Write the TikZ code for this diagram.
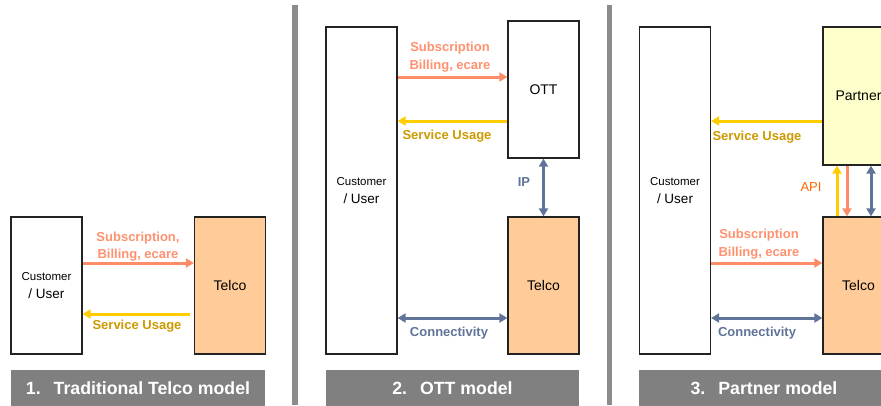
\documentclass[tikz,border=0pt]{standalone}
\usepackage{fontspec}
\setmainfont{Liberation Sans}
\usetikzlibrary{arrows.meta,calc}

\definecolor{salmon}{RGB}{255,140,105}
\definecolor{salmontext}{RGB}{255,145,112}
\definecolor{usage}{RGB}{255,204,0}
\definecolor{usagetext}{RGB}{204,153,0}
\definecolor{slate}{RGB}{96,115,153}
\definecolor{telcofill}{RGB}{255,204,153}
\definecolor{partnerfill}{RGB}{255,255,204}
\definecolor{apiorange}{RGB}{255,102,0}
\definecolor{bargray}{RGB}{128,128,128}
\definecolor{divgray}{RGB}{140,140,140}
\definecolor{edge}{RGB}{35,35,35}

\tikzset{
  box/.style={draw=edge, line width=1.2pt, inner sep=0pt, align=center,
    font=\fontsize{14}{16}\selectfont},
  cust/.style={box, fill=white, minimum width=71pt},
  telco/.style={box, fill=telcofill, minimum width=71pt, minimum height=137pt},
  flow/.style={line width=3pt, -{Triangle[length=8pt,width=9pt]}},
  flowboth/.style={line width=3pt, {Triangle[length=8pt,width=9pt]}-{Triangle[length=8pt,width=9pt]}},
  lbl/.style={font=\bfseries\fontsize{13}{15}\selectfont, inner sep=0pt, align=center},
  subl/.style={lbl, text=salmontext},
  usel/.style={lbl, text=usagetext},
  conl/.style={lbl, text=slate},
  bar/.style={fill=bargray, text=white, inner sep=0pt, minimum height=36pt,
    font=\bfseries\fontsize{17.7}{20}\selectfont},
  divider/.style={draw=divgray, line width=5.5pt}
}

\newcommand{\custtext}{{\fontsize{11.5}{14}\selectfont Customer}\\[1.5pt]{\fontsize{13.5}{15}\selectfont / User}}

\begin{document}
\begin{tikzpicture}[x=1pt,y=-1pt]
\useasboundingbox (0,0) rectangle (881,405);
\clip (0,0) rectangle (881,405);

% panel dividers
\draw[divider] (295,5) -- (295,405);
\draw[divider] (609.5,5) -- (609.5,405);

% ---------- 1. Traditional Telco model ----------
\node[cust, minimum height=137pt] (c1) at (46.5,285.5) {\custtext};
\node[telco] (t1) at (230,285.5) {Telco};
\draw[flow, salmon] ([yshift=22.5pt]c1.east) -- ([yshift=22.5pt]t1.west);
\draw[flow, usage] ([yshift=-28.5pt,xshift=-4pt]t1.west) -- ([yshift=-28.5pt]c1.east);
\node[subl] (s1a) at (138,238) {Subscription,};
\node[subl] (s1b) at (138,255) {Billing, ecare};
\node[usel] (u1) at (137,326) {Service Usage};
\node[bar, minimum width=254pt] (b1) at (138,388) {1.\hspace{13pt}Traditional Telco model};

% ---------- 2. OTT model ----------
\node[cust, minimum height=327pt] (c2) at (361.5,190.5) {\custtext};
\node[box, fill=white, minimum width=71pt, minimum height=137pt] (o2) at (543.5,89.5) {OTT};
\node[telco] (t2) at (543.5,285.5) {Telco};
\draw[flow, salmon] ([yshift=113.5pt]c2.east) -- ([yshift=12.5pt]o2.west);
\draw[flow, usage] ([yshift=-31.5pt]o2.west) -- ([yshift=69.5pt]c2.east);
\draw[flowboth, slate] (o2.south) -- (t2.north);
\draw[flowboth, slate] ([yshift=-127.5pt]c2.east) -- ([yshift=-32.5pt]t2.west);
\node[subl] (s2a) at (450,48) {Subscription};
\node[subl] (s2b) at (450,66) {Billing, ecare};
\node[usel] (u2) at (447,136) {Service Usage};
\node[conl] (ip2) at (524,182) {IP};
\node[conl] (k2) at (449,333) {Connectivity};
\node[bar, minimum width=253pt] (b2) at (452.5,388) {2.\hspace{13pt}OTT model};

% ---------- 3. Partner model ----------
\node[cust, minimum height=327pt] (c3) at (675,190.5) {\custtext};
\node[box, fill=partnerfill, minimum width=71pt, minimum height=138pt] (p3) at (858.5,96) {Partner};
\node[telco] (t3) at (858.5,285.5) {Telco};
\draw[flow, usage] ([yshift=-25pt]p3.west) -- ([yshift=69.5pt]c3.east);
\draw[flow, salmon] ([yshift=-72.5pt]c3.east) -- ([yshift=22.5pt]t3.west);
\draw[flowboth, slate] ([yshift=-127.5pt]c3.east) -- ([yshift=-32.5pt]t3.west);
\draw[flow, usage] ([xshift=-21.5pt]t3.north) -- ([xshift=-21.5pt]p3.south);
\draw[flow, salmon] ([xshift=-11.5pt]p3.south) -- ([xshift=-11.5pt]t3.north);
\draw[flowboth, slate] ([xshift=12.5pt]p3.south) -- ([xshift=12.5pt]t3.north);
\node[usel] (u3) at (757,137) {Service Usage};
\node[lbl, font=\fontsize{13}{15}\selectfont, text=apiorange] (api3) at (811,187) {API};
\node[subl] (s3a) at (759,235) {Subscription};
\node[subl] (s3b) at (759,253) {Billing, ecare};
\node[conl] (k3) at (757,333) {Connectivity};
\node[bar, minimum width=250pt] (b3) at (764,388) {3.\hspace{13pt}Partner model};
\end{tikzpicture}
\end{document}
